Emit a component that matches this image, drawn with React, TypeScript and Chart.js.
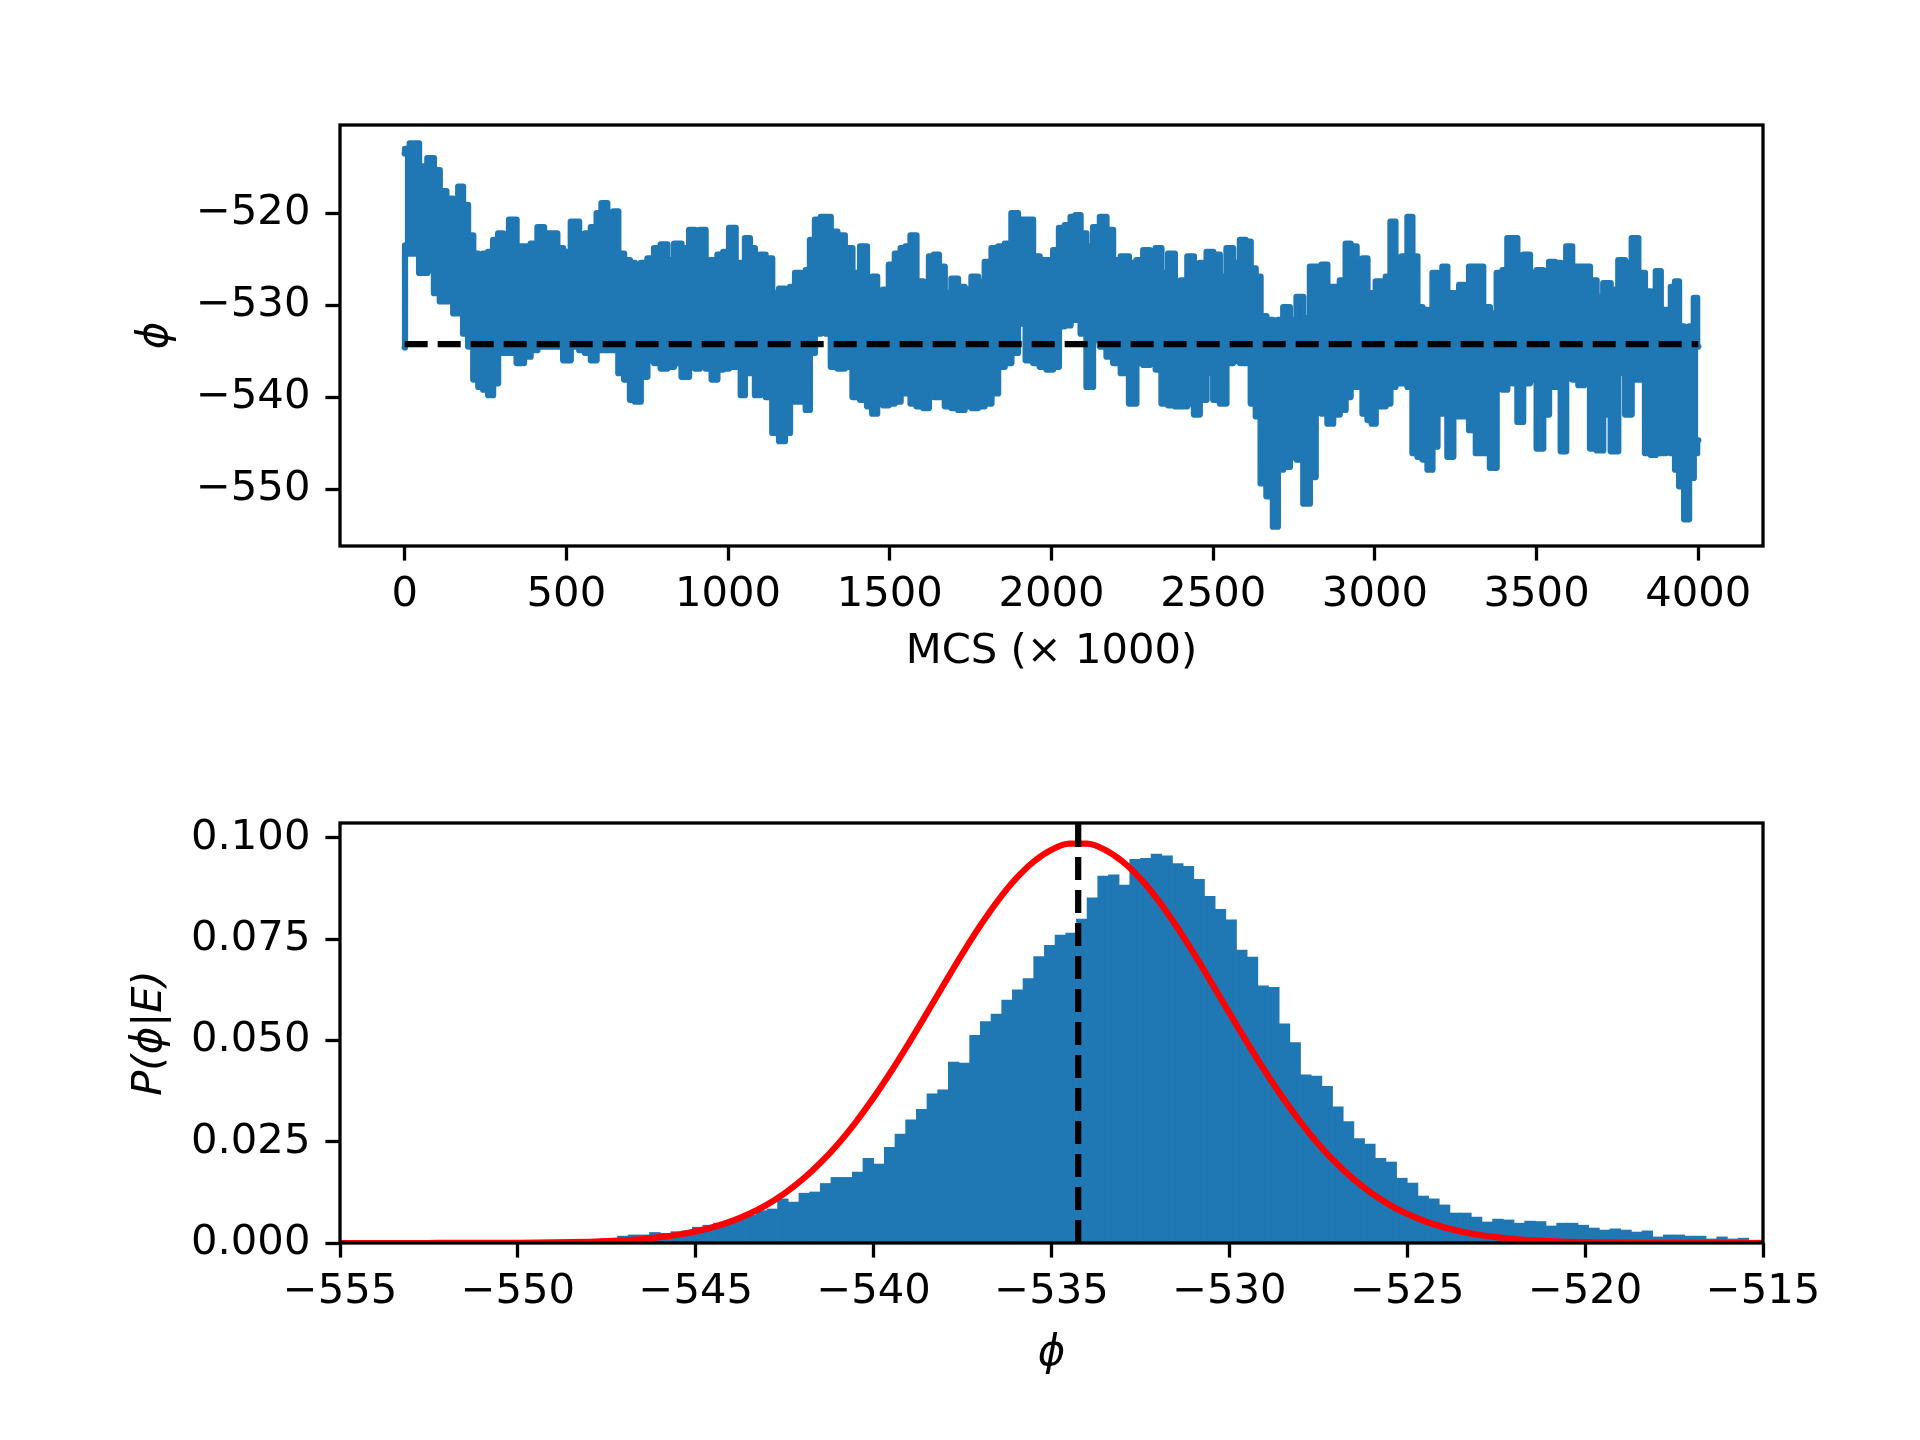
import React, { useEffect, useRef } from "react";
import { Chart, registerables } from "chart.js";

Chart.register(...registerables);

// ---- data ----

// MCS (x 1000) sample positions of the trace envelope, with upper / lower phi
const traceMcs = [
  0, 2, 29, 60, 80, 101, 116, 142, 158, 173, 188, 204, 220, 235, 250, 266, 281, 297, 312, 333,
  359, 379, 400, 421, 441, 462, 482, 498, 529, 550, 565, 586, 601, 616, 637, 653, 668, 689, 704, 720,
  740, 761, 781, 802, 823, 843, 869, 890, 905, 920, 941, 957, 977, 993, 1013, 1034, 1044, 1060, 1075, 1091,
  1106, 1126, 1147, 1168, 1184, 1199, 1215, 1235, 1245, 1261, 1276, 1297, 1307, 1328, 1348, 1374, 1395, 1421, 1438, 1453,
  1469, 1489, 1505, 1526, 1541, 1556, 1572, 1593, 1613, 1629, 1644, 1660, 1680, 1701, 1721, 1742, 1763, 1783, 1804, 1825,
  1845, 1866, 1886, 1907, 1933, 1953, 1974, 1995, 2015, 2031, 2051, 2067, 2082, 2098, 2118, 2139, 2160, 2180, 2201, 2227,
  2252, 2273, 2294, 2314, 2330, 2350, 2371, 2392, 2407, 2433, 2448, 2469, 2490, 2510, 2531, 2551, 2572, 2593, 2608, 2624,
  2639, 2654, 2675, 2694, 2706, 2727, 2747, 2768, 2789, 2809, 2825, 2845, 2861, 2881, 2902, 2917, 2933, 2954, 2969, 2985,
  2995, 3010, 3026, 3041, 3055, 3072, 3093, 3108, 3124, 3139, 3155, 3170, 3186, 3201, 3216, 3232, 3253, 3268, 3283, 3299,
  3325, 3345, 3366, 3387, 3402, 3417, 3433, 3448, 3469, 3490, 3510, 3531, 3546, 3567, 3582, 3601, 3619, 3639, 3655, 3675,
  3696, 3716, 3742, 3763, 3784, 3804, 3825, 3845, 3861, 3876, 3892, 3907, 3923, 3933, 3948, 3964, 3979, 3993, 4000,
];
const traceHigh = [
  -513.5, -513.0, -512.4, -514.9, -514.0, -515.3, -517.6, -518.4, -520.0, -517.1, -519.1, -522.4, -524.4, -526.9, -524.4, -524.2, -522.9, -522.2, -522.9, -520.7,
  -523.6, -523.6, -523.3, -521.5, -522.2, -522.2, -523.8, -524.2, -520.9, -524.0, -522.2, -521.5, -520.0, -518.9, -520.7, -519.8, -524.4, -525.1, -525.4, -527.6,
  -525.4, -524.9, -523.8, -523.4, -525.1, -523.3, -523.8, -521.8, -525.1, -521.8, -525.1, -525.1, -524.5, -524.2, -521.6, -525.4, -525.4, -522.7, -523.8, -525.4,
  -524.5, -524.9, -528.7, -528.2, -528.3, -528.0, -526.5, -527.8, -526.2, -522.9, -520.7, -520.4, -520.4, -522.0, -522.4, -523.8, -526.5, -523.6, -527.0, -526.9,
  -528.5, -528.3, -525.6, -524.4, -523.8, -523.6, -522.4, -527.4, -528.7, -524.7, -524.5, -525.8, -528.7, -527.1, -528.0, -528.3, -526.9, -527.4, -525.3, -523.8,
  -523.6, -523.3, -520.0, -520.7, -520.7, -524.7, -525.1, -525.1, -524.0, -521.6, -521.3, -520.4, -520.2, -522.2, -523.6, -521.5, -520.4, -521.8, -525.1, -524.7,
  -525.4, -525.1, -524.0, -525.8, -523.8, -526.5, -524.4, -529.1, -527.3, -524.7, -527.3, -525.4, -524.2, -524.5, -526.9, -523.8, -525.4, -522.9, -523.1, -526.0,
  -526.9, -531.2, -531.6, -534.9, -531.6, -530.2, -531.6, -529.1, -531.4, -525.8, -525.8, -525.6, -528.0, -528.0, -527.3, -523.3, -523.6, -525.1, -524.9, -529.1,
  -528.7, -527.4, -527.4, -526.9, -520.9, -526.5, -524.7, -520.4, -524.7, -530.2, -530.5, -531.6, -526.5, -527.6, -525.8, -528.7, -528.7, -527.8, -529.1, -525.8,
  -525.8, -530.2, -530.9, -526.5, -526.2, -522.7, -522.7, -526.9, -524.5, -526.5, -526.2, -528.2, -525.3, -525.4, -528.3, -523.6, -525.8, -525.8, -525.8, -527.3,
  -529.1, -527.6, -528.3, -525.1, -525.4, -522.7, -526.5, -528.5, -529.1, -526.3, -530.5, -530.5, -528.0, -527.4, -532.3, -534.5, -532.3, -529.2, -534.5,
];
const traceLow = [
  -534.6, -523.5, -524.4, -526.5, -526.2, -528.7, -529.6, -529.6, -530.9, -528.7, -533.1, -534.5, -538.1, -538.9, -539.2, -539.8, -538.5, -535.2, -535.2, -535.2,
  -536.3, -535.6, -534.9, -534.5, -534.5, -534.5, -534.5, -536.0, -534.5, -534.9, -535.2, -536.0, -534.5, -534.9, -534.9, -534.9, -537.4, -538.1, -540.3, -540.5,
  -537.8, -536.0, -536.3, -536.9, -536.7, -536.3, -537.8, -536.5, -536.9, -536.7, -536.9, -538.1, -537.0, -536.9, -536.7, -536.7, -539.8, -536.7, -537.4, -539.8,
  -536.7, -540.0, -543.9, -544.8, -543.9, -540.5, -540.5, -540.5, -541.4, -535.2, -533.1, -532.7, -533.1, -536.7, -536.9, -536.7, -540.0, -540.3, -541.0, -541.8,
  -540.7, -540.9, -540.7, -540.5, -539.6, -536.0, -540.7, -541.0, -541.2, -536.0, -540.0, -540.0, -541.0, -541.2, -541.4, -541.0, -541.2, -541.0, -540.7, -539.6,
  -536.7, -536.3, -535.2, -532.0, -536.0, -536.3, -536.7, -537.0, -536.7, -532.3, -532.2, -531.6, -531.6, -533.1, -538.9, -533.8, -534.5, -535.6, -536.3, -537.4,
  -540.7, -536.3, -536.5, -536.3, -537.0, -540.7, -540.9, -541.0, -541.0, -540.7, -541.9, -540.3, -537.4, -540.3, -540.7, -536.3, -536.1, -536.3, -536.3, -540.7,
  -542.1, -549.4, -550.8, -554.1, -547.9, -547.6, -546.5, -546.8, -551.6, -548.7, -540.7, -541.8, -542.9, -541.9, -541.4, -540.0, -538.9, -538.9, -541.8, -542.5,
  -542.9, -541.0, -541.0, -540.7, -538.9, -538.5, -538.5, -538.9, -546.1, -546.5, -546.8, -547.9, -545.4, -541.8, -538.9, -546.5, -542.1, -542.1, -542.1, -543.6,
  -546.1, -546.1, -547.7, -538.9, -539.2, -537.4, -538.5, -542.7, -538.5, -538.1, -545.6, -541.9, -538.9, -538.9, -545.9, -537.6, -538.1, -538.7, -538.1, -545.6,
  -545.8, -541.9, -545.9, -537.4, -541.9, -538.1, -538.1, -546.1, -546.3, -546.1, -546.1, -545.9, -546.1, -547.9, -549.7, -553.3, -548.8, -546.1, -544.7,
];

const meanPhi = -534.25;
const meanLineMcs = [0, 4000];

// histogram of phi: bins of 0.3 starting at -547.2
const histStart = -547.2;
const histWidth = 0.3;
const histDensity = [
  0.0017, 0.0020, 0.0020, 0.0026, 0.0024, 0.0028, 0.0030, 0.0039, 0.0044, 0.0049,
  0.0053, 0.0061, 0.0069, 0.0080, 0.0084, 0.0109, 0.0101, 0.0123, 0.0126, 0.0147,
  0.0162, 0.0162, 0.0175, 0.0209, 0.0195, 0.0236, 0.0269, 0.0304, 0.0330, 0.0368,
  0.0378, 0.0447, 0.0444, 0.0513, 0.0547, 0.0565, 0.0600, 0.0625, 0.0653, 0.0707,
  0.0735, 0.0760, 0.0765, 0.0800, 0.0852, 0.0906, 0.0909, 0.0884, 0.0947, 0.0950,
  0.0960, 0.0956, 0.0937, 0.0930, 0.0898, 0.0856, 0.0824, 0.0798, 0.0723, 0.0706,
  0.0635, 0.0631, 0.0541, 0.0495, 0.0415, 0.0412, 0.0387, 0.0336, 0.0300, 0.0258,
  0.0244, 0.0209, 0.0200, 0.0160, 0.0148, 0.0116, 0.0109, 0.0094, 0.0074, 0.0074,
  0.0064, 0.0052, 0.0059, 0.0057, 0.0049, 0.0054, 0.0053, 0.0042, 0.0049, 0.0049,
  0.0044, 0.0037, 0.0032, 0.0035, 0.0032, 0.0027, 0.0030, 0.0015, 0.0020, 0.0020,
  0.0017, 0.0017, 0.0010, 0.0015, 0.0010, 0.0012, 0.0007, 0.0007,
];

// fitted normal curve, sampled every 0.5 from -555
const curveStart = -555;
const curveStep = 0.5;
const curveP = [
  0, 0, 0, 0, 0, 0.00000, 0.00001, 0.00001, 0.00002, 0.00003,
  0.00005, 0.00008, 0.00013, 0.0002, 0.0003, 0.00045, 0.00068, 0.00099, 0.00144, 0.00204,
  0.00286, 0.00395, 0.00537, 0.00718, 0.00946, 0.01228, 0.01569, 0.01975, 0.02446, 0.02986,
  0.03589, 0.04247, 0.04949, 0.05681, 0.06422, 0.07149, 0.07837, 0.0846, 0.08995, 0.09418,
  0.09711, 0.09861, 0.09861, 0.09711, 0.09418, 0.08995, 0.0846, 0.07837, 0.07149, 0.06422,
  0.05681, 0.04949, 0.04247, 0.03589, 0.02986, 0.02446, 0.01975, 0.01569, 0.01228, 0.00946,
  0.00718, 0.00537, 0.00395, 0.00286, 0.00204, 0.00144, 0.00099, 0.00068, 0.00045, 0.0003,
  0.0002, 0.00013, 0.00008, 0.00005, 0.00003, 0.00002, 0.00001, 0.00001, 0, 0, 0,
];

const mcsTicks = [0, 500, 1000, 1500, 2000, 2500, 3000, 3500, 4000];
const phiTraceTicks = [-550, -540, -530, -520];
const phiHistTicks = [-555, -550, -545, -540, -535, -530, -525, -520, -515];
const probTicks = [0, 0.025, 0.05, 0.075, 0.1];

// ---- styling ----
const FONT_FAMILY = "'DejaVu Sans', sans-serif";
const FONT = 41.7;
const LINE = 6.25;
const SPINE = 3.3;
const TICK_LEN = 14.6;
const BLUE = "#1f77b4";

Chart.defaults.font.family = FONT_FAMILY;
Chart.defaults.color = "#000";

const minus = (v: number) => (v < 0 ? "\u2212" + String(Math.abs(v)) : String(v));

const framePlugin = {
  id: "frame",
  afterDatasetsDraw(chart: any) {
    const { ctx, chartArea: a } = chart;
    ctx.save();
    ctx.strokeStyle = "#000";
    ctx.lineWidth = SPINE;
    ctx.strokeRect(a.left, a.top, a.right - a.left, a.bottom - a.top);
    ctx.restore();
  },
};

function axis(opts: {
  min: number;
  max: number;
  ticks: number[];
  fmt: (v: number) => string;
  horizontal: boolean;
  size: number;
  pad: number;
  title: string;
  italic?: boolean;
  titlePad: any;
}) {
  return {
    type: "linear",
    min: opts.min,
    max: opts.max,
    offset: false,
    grid: {
      display: true,
      offset: false,
      drawOnChartArea: false,
      drawTicks: true,
      tickLength: TICK_LEN,
      tickWidth: SPINE,
      tickColor: "#000",
      color: "rgba(0,0,0,0)",
    },
    border: { display: false },
    ticks: {
      font: { size: FONT },
      color: "#000",
      padding: opts.pad,
      autoSkip: false,
      maxRotation: 0,
      minRotation: 0,
      callback: (v: any) => opts.fmt(Number(v)),
    },
    title: {
      display: true,
      text: opts.title,
      color: "#000",
      font: { size: FONT, style: opts.italic ? "italic" : "normal" },
      padding: opts.titlePad,
    },
    afterBuildTicks: (s: any) => {
      s.ticks = opts.ticks.map((value) => ({ value }));
    },
    afterFit: (s: any) => {
      if (opts.horizontal) s.height = opts.size;
      else s.width = opts.size;
    },
  };
}

function traceConfig(): any {
  const hi = traceMcs.map((x, i) => ({ x, y: traceHigh[i] }));
  const lo = traceMcs.map((x, i) => ({ x, y: traceLow[i] }));
  const band = {
    borderColor: BLUE,
    backgroundColor: BLUE,
    borderWidth: LINE,
    borderJoinStyle: "round",
    borderCapStyle: "round",
    pointRadius: 0,
    stepped: "middle",
  };
  return {
    type: "line",
    data: {
      datasets: [
        {
          data: meanLineMcs.map((x) => ({ x, y: meanPhi })),
          borderColor: "#000",
          borderWidth: LINE,
          borderDash: [23, 10],
          pointRadius: 0,
          order: 0,
        },
        { ...band, data: hi, fill: "+1", order: 1 },
        { ...band, data: lo, fill: false, order: 2 },
      ],
    },
    options: {
      animation: false,
      responsive: true,
      maintainAspectRatio: false,
      devicePixelRatio: 1,
      layout: { padding: { top: 125, right: 157, left: 0, bottom: 0 } },
      plugins: { legend: { display: false }, tooltip: { enabled: false } },
      scales: {
        x: axis({
          min: -200,
          max: 4200,
          ticks: mcsTicks,
          fmt: minus,
          horizontal: true,
          size: 174,
          pad: 10,
          title: "MCS (\u00d7 1000)",
          titlePad: { top: 0, bottom: 43 },
        }),
        y: axis({
          min: -556.2,
          max: -510.4,
          ticks: phiTraceTicks,
          fmt: minus,
          horizontal: false,
          size: 340,
          pad: 15,
          title: "\u03d5",
          italic: true,
          titlePad: { top: 131, bottom: 0 },
        }),
      },
    },
    plugins: [framePlugin],
  };
}

function histConfig(): any {
  const bars = histDensity.map((y, i) => ({ x: histStart + histWidth * (i + 0.5), y }));
  const curve = curveP.map((y, i) => ({ x: curveStart + curveStep * i, y }));
  return {
    type: "line",
    data: {
      datasets: [
        {
          data: [
            { x: meanPhi, y: 0 },
            { x: meanPhi, y: 0.1037 },
          ],
          borderColor: "#000",
          borderWidth: LINE,
          borderDash: [23, 10],
          pointRadius: 0,
          order: 0,
        },
        {
          data: curve,
          borderColor: "#ff0000",
          borderWidth: LINE,
          pointRadius: 0,
          tension: 0.4,
          cubicInterpolationMode: "monotone",
          fill: false,
          order: 1,
        },
        {
          type: "bar",
          data: bars,
          backgroundColor: BLUE,
          borderWidth: 0,
          barPercentage: 1,
          categoryPercentage: 1,
          grouped: false,
          order: 2,
        },
      ],
    },
    options: {
      animation: false,
      responsive: true,
      maintainAspectRatio: false,
      devicePixelRatio: 1,
      layout: { padding: { top: 103, right: 157, left: 0, bottom: 0 } },
      plugins: { legend: { display: false }, tooltip: { enabled: false } },
      scales: {
        x: axis({
          min: -555,
          max: -515,
          ticks: phiHistTicks,
          fmt: minus,
          horizontal: true,
          size: 197,
          pad: 10,
          title: "\u03d5",
          italic: true,
          titlePad: { top: 0, bottom: 61 },
        }),
        y: axis({
          min: 0,
          max: 0.1037,
          ticks: probTicks,
          fmt: (v) => v.toFixed(3),
          horizontal: false,
          size: 340,
          pad: 15,
          title: "P(\u03d5|E)",
          italic: true,
          titlePad: { top: 125, bottom: 0 },
        }),
      },
    },
    plugins: [framePlugin],
  };
}

const ChartPanel: React.FC<{ top: number; height: number; build: () => any }> = ({ top, height, build }) => {
  const canvasRef = useRef<HTMLCanvasElement | null>(null);

  useEffect(() => {
    if (!canvasRef.current) return;
    const chart = new Chart(canvasRef.current, build());
    return () => {
      chart.destroy();
    };
  }, [build]);

  return (
    <div style={{ position: "absolute", left: 0, top, width: 1920, height }}>
      <canvas ref={canvasRef} />
    </div>
  );
};

export default function App() {
  return (
    <div style={{ position: "absolute", left: 0, top: 0, width: 1920, height: 1440, background: "#fff" }}>
      <ChartPanel top={0} height={720} build={traceConfig} />
      <ChartPanel top={720} height={720} build={histConfig} />
    </div>
  );
}
